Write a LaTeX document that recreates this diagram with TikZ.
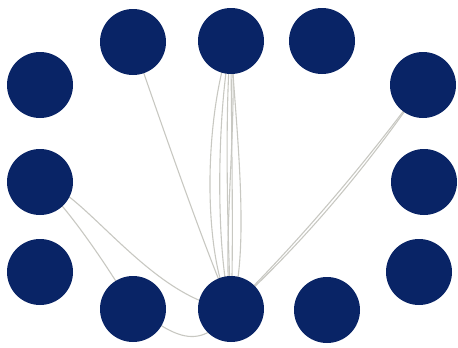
\documentclass[tikz,border=0pt]{standalone}
\usetikzlibrary{backgrounds}
\definecolor{navy}{RGB}{9,36,102}
\definecolor{edgegray}{RGB}{200,200,194}
\tikzset{
  vtx/.style={circle, fill=navy, draw=none, minimum size=66pt, inner sep=0pt},
  lnk/.style={draw=edgegray, line width=1.1pt}
}
\begin{document}
\begin{tikzpicture}[x=1pt, y=-1pt]
\useasboundingbox (0,0) rectangle (458,348);
\node[vtx] (t1) at (133,42) {};
\node[vtx] (t2) at (231,41) {};
\node[vtx] (t3) at (322,41) {};
\node[vtx] (l1) at (40,85) {};
\node[vtx] (l2) at (40,182) {};
\node[vtx] (l3) at (40,272) {};
\node[vtx] (r1) at (423,85) {};
\node[vtx] (r2) at (424,182) {};
\node[vtx] (r3) at (419,272) {};
\node[vtx] (b1) at (133,309) {};
\node[vtx] (b2) at (231,309) {};
\node[vtx] (b3) at (327,310) {};
\begin{scope}[on background layer]
  % top-center to bottom-center bundle
  \draw[lnk] (t2.center) .. controls (205,110) and (201,250) .. (b2.center);
  \draw[lnk] (t2.center) .. controls (217,110) and (215,250) .. (b2.center);
  \draw[lnk] (t2.center) .. controls (224,110) and (228,250) .. (b2.center);
  \draw[lnk] (t2.center) .. controls (231,110) and (234,250) .. (b2.center);
  \draw[lnk] (t2.center) .. controls (234,110) and (252,250) .. (b2.center);
  \draw[lnk] (t2.center) .. controls (239,110) and (221,250) .. (b2.center);
  % top-left to bottom-center
  \draw[lnk] (t1.center) .. controls (160,120) and (205,250) .. (b2.center);
  % right-top to bottom-center (double)
  \draw[lnk] (r1.center) .. controls (364,165) and (301,239) .. (b2.center);
  \draw[lnk] (r1.center) .. controls (367,167) and (304,242) .. (b2.center);
  % left-middle to bottom-center
  \draw[lnk] (l2.center) .. controls (80,185) and (150,300) .. (b2.center);
  % left-middle to bottom-left
  \draw[lnk] (l2.center) .. controls (70,210) and (110,270) .. (b1.center);
  % bottom-left to bottom-center
  \draw[lnk] (b1.center) .. controls (160,320) and (195,365) .. (b2.center);
\end{scope}
\end{tikzpicture}
\end{document}
